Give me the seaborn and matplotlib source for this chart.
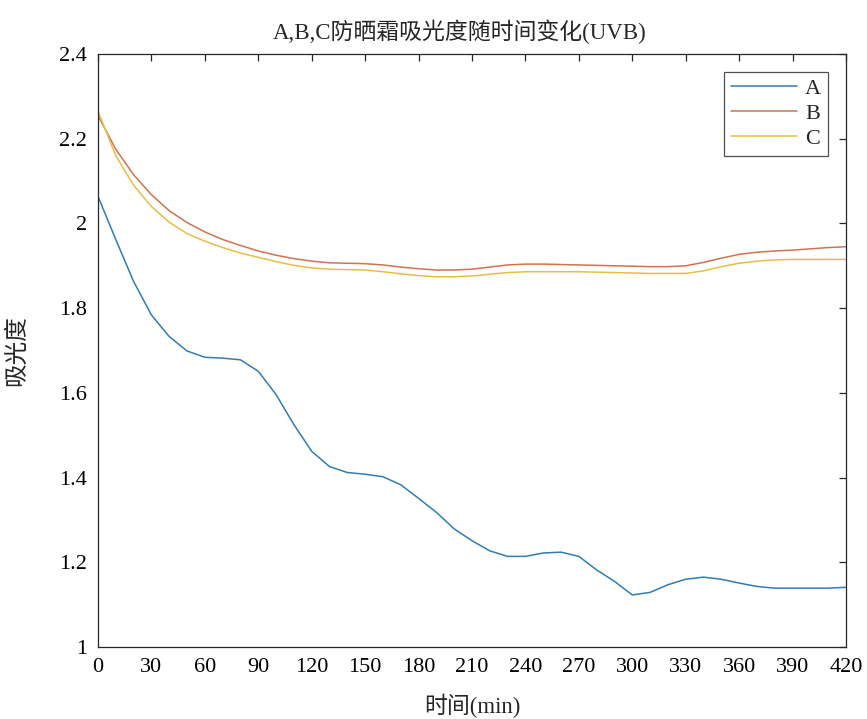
import pandas as pd
import matplotlib
matplotlib.use("Agg")
import matplotlib.pyplot as plt
import seaborn as sns

# time in minutes, readings every 10 min
times = [0, 10, 20, 30, 40, 50, 60, 70, 80, 90, 100, 110, 120, 130, 140,
         150, 160, 170, 180, 190, 200, 210, 220, 230, 240, 250, 260, 270, 280,
         290, 300, 310, 320, 330, 340, 350, 360, 370, 380, 390, 400, 410, 420]

sample_a = [2.064, 1.962, 1.863, 1.784, 1.733, 1.699, 1.684, 1.682, 1.678, 1.651,
            1.596, 1.525, 1.462, 1.426, 1.412, 1.408, 1.402, 1.383, 1.351, 1.318,
            1.279, 1.251, 1.227, 1.214, 1.214, 1.222, 1.224, 1.214, 1.182, 1.155,
            1.123, 1.129, 1.147, 1.160, 1.165, 1.160, 1.151, 1.143, 1.139, 1.139,
            1.139, 1.139, 1.141]
sample_b = [2.255, 2.175, 2.115, 2.068, 2.030, 2.002, 1.980, 1.962, 1.948, 1.935,
            1.925, 1.917, 1.911, 1.907, 1.906, 1.905, 1.902, 1.897, 1.893, 1.890,
            1.890, 1.892, 1.897, 1.902, 1.904, 1.904, 1.903, 1.902, 1.901, 1.900,
            1.899, 1.898, 1.898, 1.900, 1.908, 1.918, 1.927, 1.932, 1.935, 1.937,
            1.940, 1.943, 1.945]
sample_c = [2.265, 2.160, 2.090, 2.040, 2.003, 1.976, 1.958, 1.943, 1.930, 1.920,
            1.910, 1.901, 1.895, 1.892, 1.891, 1.890, 1.886, 1.881, 1.877, 1.874,
            1.874, 1.876, 1.880, 1.884, 1.886, 1.886, 1.886, 1.886, 1.885, 1.884,
            1.883, 1.882, 1.882, 1.882, 1.888, 1.898, 1.906, 1.911, 1.914, 1.915,
            1.915, 1.915, 1.915]

labels = ["A", "B", "C"]
colors = ["#2f7db3", "#d07350", "#e9bd45"]

x_ticks = [0, 30, 60, 90, 120, 150, 180, 210, 240, 270, 300, 330, 360, 390, 420]
y_ticks = [1, 1.2, 1.4, 1.6, 1.8, 2, 2.2, 2.4]
y_tick_labels = ["1", "1.2", "1.4", "1.6", "1.8", "2", "2.2", "2.4"]


def main():
    sns.set_theme(style="white")
    plt.rcParams['font.family'] = ['Liberation Serif', 'Noto Sans CJK SC']
    plt.rcParams['axes.unicode_minus'] = False

    df = pd.DataFrame({
        'time': times * 3,
        'absorbance': sample_a + sample_b + sample_c,
        'sample': ['A'] * len(times) + ['B'] * len(times) + ['C'] * len(times),
    })

    fig = plt.figure(figsize=(8.67, 7.19), dpi=100)
    ax = fig.add_axes([0.113, 0.1001, 0.8628, 0.8248])

    sns.lineplot(data=df, x='time', y='absorbance', hue='sample',
                 palette=dict(zip(labels, colors)), linewidth=1.1, ax=ax)

    ax.set_xlim(0, 420)
    ax.set_ylim(1, 2.4)
    ax.set_xticks(x_ticks)
    ax.set_yticks(y_ticks)
    ax.set_yticklabels(y_tick_labels)

    # matlab-like box with inward ticks on all sides
    for side in ax.spines.values():
        side.set_color('#262626')
        side.set_linewidth(0.9)
    ax.tick_params(direction='in', length=5, width=0.9, color='#262626',
                   top=True, right=True, labelsize=16, labelcolor='black', pad=8)

    ax.set_title('A,B,C防晒霜吸光度随时间变化(UVB)', fontsize=16.5, pad=11, x=0.484)
    ax.set_xlabel('时间(min)', fontsize=16.5, labelpad=12)
    ax.set_ylabel('吸光度', fontsize=17, labelpad=22)

    leg = ax.legend(loc='upper right', bbox_to_anchor=(0.976, 0.970), fontsize=16,
                    handlelength=3.0, handletextpad=0.35, labelspacing=0.2,
                    borderpad=0.3, fancybox=False, frameon=True, borderaxespad=0)
    leg.get_frame().set_edgecolor('#262626')
    leg.get_frame().set_linewidth(0.9)

    fig.savefig('out.png', dpi=100)


if __name__ == "__main__":
    main()
